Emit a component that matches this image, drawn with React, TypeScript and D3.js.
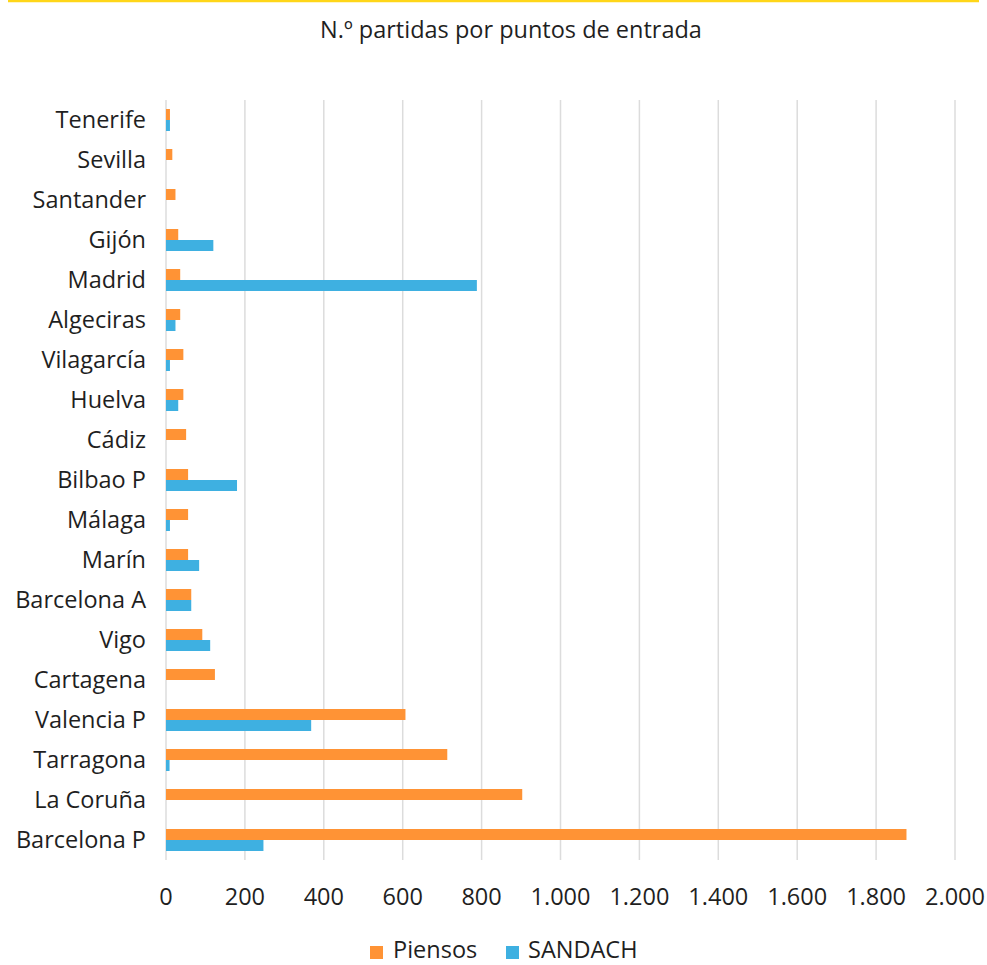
import React from "react";
import * as d3 from "d3";

const categories = ["Tenerife","Sevilla","Santander","Gijón","Madrid","Algeciras","Vilagarcía","Huelva","Cádiz","Bilbao P","Málaga","Marín","Barcelona A","Vigo","Cartagena","Valencia P","Tarragona","La Coruña","Barcelona P"];
const piensos = [10,16,24,31,36,36,44,44,51,56,56,56,64,92,124,607,713,903,1877];
const sandach = [10,0,0,120,788,24,10,31,0,180,10,84,64,112,0,368,9,0,247];
const xTicks = [0,200,400,600,800,1000,1200,1400,1600,1800,2000];
const seriesNames = ["Piensos","SANDACH"];
const colors = ["#FF9335","#3EB0E1"];

const W = 987, H = 965;
const left = 166, right = 955, top = 100, bottom = 860;
const fmt = (v: number) => v.toString().replace(/\B(?=(\d{3})+(?!\d))/g, ".");
const FONT = "'Open Sans', sans-serif";
const FS = 23.5;

export default function App() {
  const x = d3.scaleLinear().domain([0, 2000]).range([left, right]);
  const y = d3.scaleBand().domain(categories).range([top, bottom]).paddingInner(0.45).paddingOuter(0.225);
  const sub = d3.scaleBand().domain(seriesNames).range([0, y.bandwidth()]);
  const series = [piensos, sandach];
  return (
    <svg width={W} height={H} style={{ position: "absolute", left: 0, top: 0, fontFamily: FONT }}>
      <rect width={W} height={H} fill="#fff" />
      <line x1={8} x2={979} y1={1} y2={1} stroke="#FFD618" strokeWidth={2.5} />
      <text x={511} y={38} textAnchor="middle" fontSize={FS} fill="#1f1f1f">N.º partidas por puntos de entrada</text>
      {xTicks.map(t => (
        <line key={"g" + t} x1={x(t)} x2={x(t)} y1={top} y2={bottom} stroke="#dcdcdc" strokeWidth={1.5} />
      ))}
      {series.map((vals, si) => categories.map((c, i) => vals[i] > 0 ? (
        <rect key={si + c} x={x(0)} y={(y(c) as number) + (sub(seriesNames[si]) as number)}
          width={x(vals[i]) - x(0)} height={sub.bandwidth()} fill={colors[si]} />
      ) : null))}
      {categories.map(c => (
        <text key={"l" + c} x={146} y={(y(c) as number) + y.bandwidth() / 2} dy="0.35em" textAnchor="end" fontSize={FS} fill="#1f1f1f">{c}</text>
      ))}
      {xTicks.map(t => (
        <text key={"t" + t} x={x(t)} y={897} dy="0.35em" textAnchor="middle" fontSize={FS} fill="#1f1f1f">{fmt(t)}</text>
      ))}
      <rect x={370} y={946} width={13} height={13} fill={colors[0]} />
      <text x={393} y={958} fontSize={FS} fill="#1f1f1f">{seriesNames[0]}</text>
      <rect x={506} y={946} width={13} height={13} fill={colors[1]} />
      <text x={528} y={958} fontSize={FS} fill="#1f1f1f">{seriesNames[1]}</text>
    </svg>
  );
}
